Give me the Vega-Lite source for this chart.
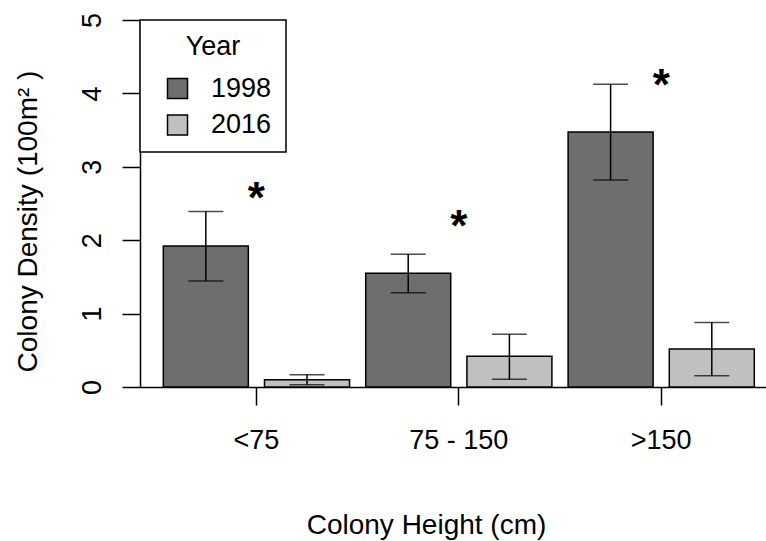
{
  "$schema": "https://vega.github.io/schema/vega-lite/v6.json",
  "autosize": {"type": "none"},
  "padding": {"left": 140, "top": 20, "right": 0, "bottom": 154},
  "width": 626,
  "height": 367,
  "background": "white",
  "config": {
    "view": {"stroke": null},
    "font": "Liberation Sans",
    "axis": {"grid": false, "labelFont": "Liberation Sans", "titleFont": "Liberation Sans", "labelColor": "black", "titleColor": "black", "tickColor": "black", "domainColor": "black", "tickWidth": 1.5, "domainWidth": 1.5, "tickSize": 18, "labelFontSize": 27, "titleFontSize": 28, "titleFontWeight": "normal"},
    "legend": {"strokeWidth": 1.5}
  },
  "datasets": {
    "bars": [
      {"height": "<75", "year": "1998", "density": 1.92, "lo": 1.444, "hi": 2.39},
      {"height": "<75", "year": "2016", "density": 0.10, "lo": 0.03, "hi": 0.168},
      {"height": "75 - 150", "year": "1998", "density": 1.55, "lo": 1.285, "hi": 1.81},
      {"height": "75 - 150", "year": "2016", "density": 0.42, "lo": 0.105, "hi": 0.718},
      {"height": ">150", "year": "1998", "density": 3.474, "lo": 2.82, "hi": 4.124},
      {"height": ">150", "year": "2016", "density": 0.518, "lo": 0.154, "hi": 0.88}
    ],
    "stars": [
      {"height": "<75", "pos": 2.70, "label": "*"},
      {"height": "75 - 150", "pos": 2.32, "label": "*"},
      {"height": ">150", "pos": 4.24, "label": "*"}
    ]
  },
  "layer": [
    {
      "data": {"name": "bars"},
      "mark": {"type": "bar", "stroke": "black", "strokeWidth": 1.5},
      "encoding": {
        "x": {"field": "height", "type": "nominal", "sort": ["<75", "75 - 150", ">150"],
          "scale": {"paddingInner": 0.08, "paddingOuter": 0.0865, "align": 0.666, "round": false},
          "axis": {"labelAngle": 0, "labelPadding": 22, "title": "Colony Height (cm)", "titleX": 286, "titleY": 146, "titleBaseline": "alphabetic", "titleAlign": "center", "titleAnchor": null}},
        "xOffset": {"field": "year", "type": "nominal", "scale": {"paddingInner": 0.16, "paddingOuter": 0, "round": false}},
        "y": {"field": "density", "type": "quantitative",
          "scale": {"domain": [0, 5], "nice": false, "zero": true},
          "axis": {"values": [0, 1, 2, 3, 4, 5], "format": "d", "labelAngle": -90, "labelAlign": "center", "labelBaseline": "alphabetic", "labelPadding": 22,
            "title": "Colony Density (100m² )", "titleAngle": -90, "titleBaseline": "alphabetic", "titleAlign": "center", "titleX": -104, "titleY": 201, "titleAnchor": null}},
        "fill": {"field": "year", "type": "nominal", "scale": {"domain": ["1998", "2016"], "range": ["#6e6e6e", "#c0c0c0"]},
          "legend": {"orient": "none", "legendX": 0, "legendY": 0, "title": "Year", "titleFontSize": 27, "titleFontWeight": "normal", "titleFont": "Liberation Sans", "titleColor": "black", "titleAnchor": "middle", "titlePadding": 14,
            "labelFontSize": 27, "labelFont": "Liberation Sans", "labelColor": "black", "labelOffset": 20, "symbolType": "square", "symbolSize": 400, "symbolStrokeColor": "black", "symbolStrokeWidth": 1.5, "symbolOffset": 10, "rowPadding": 8.5,
            "strokeColor": "black", "fillColor": "white", "padding": 14}}
      }
    },
    {
      "data": {"name": "bars"},
      "mark": {"type": "rule", "color": "black", "strokeWidth": 1.5},
      "encoding": {
        "x": {"field": "height", "type": "nominal", "sort": ["<75", "75 - 150", ">150"]},
        "xOffset": {"field": "year", "type": "nominal"},
        "y": {"field": "lo", "type": "quantitative"},
        "y2": {"field": "hi"}
      }
    },
    {
      "data": {"name": "bars"},
      "mark": {"type": "tick", "color": "black", "thickness": 1.5, "size": 35, "orient": "horizontal"},
      "encoding": {
        "x": {"field": "height", "type": "nominal", "sort": ["<75", "75 - 150", ">150"]},
        "xOffset": {"field": "year", "type": "nominal"},
        "y": {"field": "lo", "type": "quantitative"}
      }
    },
    {
      "data": {"name": "bars"},
      "mark": {"type": "tick", "color": "black", "thickness": 1.5, "size": 35, "orient": "horizontal"},
      "encoding": {
        "x": {"field": "height", "type": "nominal", "sort": ["<75", "75 - 150", ">150"]},
        "xOffset": {"field": "year", "type": "nominal"},
        "y": {"field": "hi", "type": "quantitative"}
      }
    },
    {
      "data": {"name": "stars"},
      "mark": {"type": "text", "font": "Liberation Sans", "fontSize": 44, "fontWeight": "bold", "color": "black", "baseline": "alphabetic", "align": "center", "dy": 24},
      "encoding": {
        "x": {"field": "height", "type": "nominal", "sort": ["<75", "75 - 150", ">150"]},
        "y": {"field": "pos", "type": "quantitative"},
        "text": {"field": "label"}
      }
    }
  ]
}
